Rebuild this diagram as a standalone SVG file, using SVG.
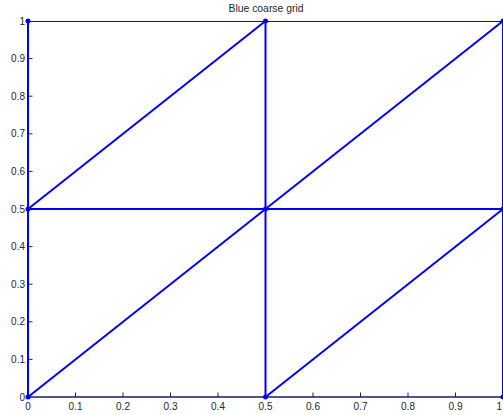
<svg xmlns="http://www.w3.org/2000/svg" width="503" height="415" viewBox="0 0 503 415">
<style>
.bg{fill:#ffffff}
.edge{stroke:#0000ff;stroke-width:2;fill:none}
.edge-thin{stroke:#0000ff;stroke-width:1;fill:none}
.node{fill:#0000ff}
.axis{stroke:#262626;stroke-width:1;fill:none}
.tick{stroke:#262626;stroke-width:1}
.lbl{font-family:"Liberation Sans",Arial,sans-serif;font-size:10px;fill:#262626}
.ylbl{text-anchor:end}
.xlbl{text-anchor:middle}
.title{font-family:"Liberation Sans",Arial,sans-serif;font-size:10.4px;fill:#262626;text-anchor:middle}
</style>
<rect class="bg" x="0" y="0" width="503" height="415"/>
<text class="title" x="266" y="12">Blue coarse grid</text>
<g id="ticks">
<path class="tick" d="M75.5 397V392.5M123 397V392.5M170.5 397V392.5M218 397V392.5M313 397V392.5M360.5 397V392.5M408 397V392.5M455.5 397V392.5"/>
<path class="tick" d="M28 359.4H32.5M28 321.8H32.5M28 284.2H32.5M28 246.6H32.5M28 171.4H32.5M28 133.8H32.5M28 96.2H32.5M28 58.6H32.5"/>
</g>
<g id="ylabels" class="lbl ylbl">
<text x="25" y="400.5">0</text>
<text x="25" y="362.9">0.1</text>
<text x="25" y="325.3">0.2</text>
<text x="25" y="287.7">0.3</text>
<text x="25" y="250.1">0.4</text>
<text x="25" y="212.5">0.5</text>
<text x="25" y="174.9">0.6</text>
<text x="25" y="137.3">0.7</text>
<text x="25" y="99.7">0.8</text>
<text x="25" y="62.1">0.9</text>
<text x="25" y="24.5">1</text>
</g>
<g id="xlabels" class="lbl xlbl">
<text x="28" y="410">0</text>
<text x="75.5" y="410">0.1</text>
<text x="123" y="410">0.2</text>
<text x="170.5" y="410">0.3</text>
<text x="218" y="410">0.4</text>
<text x="265.5" y="410">0.5</text>
<text x="313" y="410">0.6</text>
<text x="360.5" y="410">0.7</text>
<text x="408" y="410">0.8</text>
<text x="455.5" y="410">0.9</text>
<text x="502" y="410" text-anchor="end">1</text>
</g>
<g id="connectors">
<line class="edge-thin" x1="28" y1="21.5" x2="503" y2="21.5"/>
<line class="edge" x1="28" y1="209" x2="503" y2="209"/>
<line class="edge-thin" x1="28" y1="397" x2="503" y2="397"/>
<line class="edge" x1="28" y1="21" x2="28" y2="397"/>
<line class="edge" x1="265.5" y1="21" x2="265.5" y2="397"/>
<line class="edge" x1="503" y1="21" x2="503" y2="397"/>
<line class="edge" x1="28" y1="397" x2="265.5" y2="209"/>
<line class="edge" x1="265.5" y1="209" x2="503" y2="21"/>
<line class="edge" x1="28" y1="209" x2="265.5" y2="21"/>
<line class="edge" x1="265.5" y1="397" x2="503" y2="209"/>
</g>
<g id="xaxis"><line class="axis" x1="28" y1="397" x2="503" y2="397"/></g>
<g id="n00"><circle class="node" cx="28" cy="397" r="2.5"/></g>
<g id="n10"><circle class="node" cx="265.5" cy="397" r="2.5"/></g>
<g id="n20"><circle class="node" cx="503" cy="397" r="2.5"/></g>
<g id="n01"><circle class="node" cx="28" cy="209" r="2.5"/></g>
<g id="n11"><circle class="node" cx="265.5" cy="209" r="2.5"/></g>
<g id="n21"><circle class="node" cx="503" cy="209" r="2.5"/></g>
<g id="n02"><circle class="node" cx="28" cy="21" r="2.5"/></g>
<g id="n12"><circle class="node" cx="265.5" cy="21" r="2.5"/></g>
<g id="n22"><circle class="node" cx="503" cy="21" r="2.5"/></g>
</svg>
